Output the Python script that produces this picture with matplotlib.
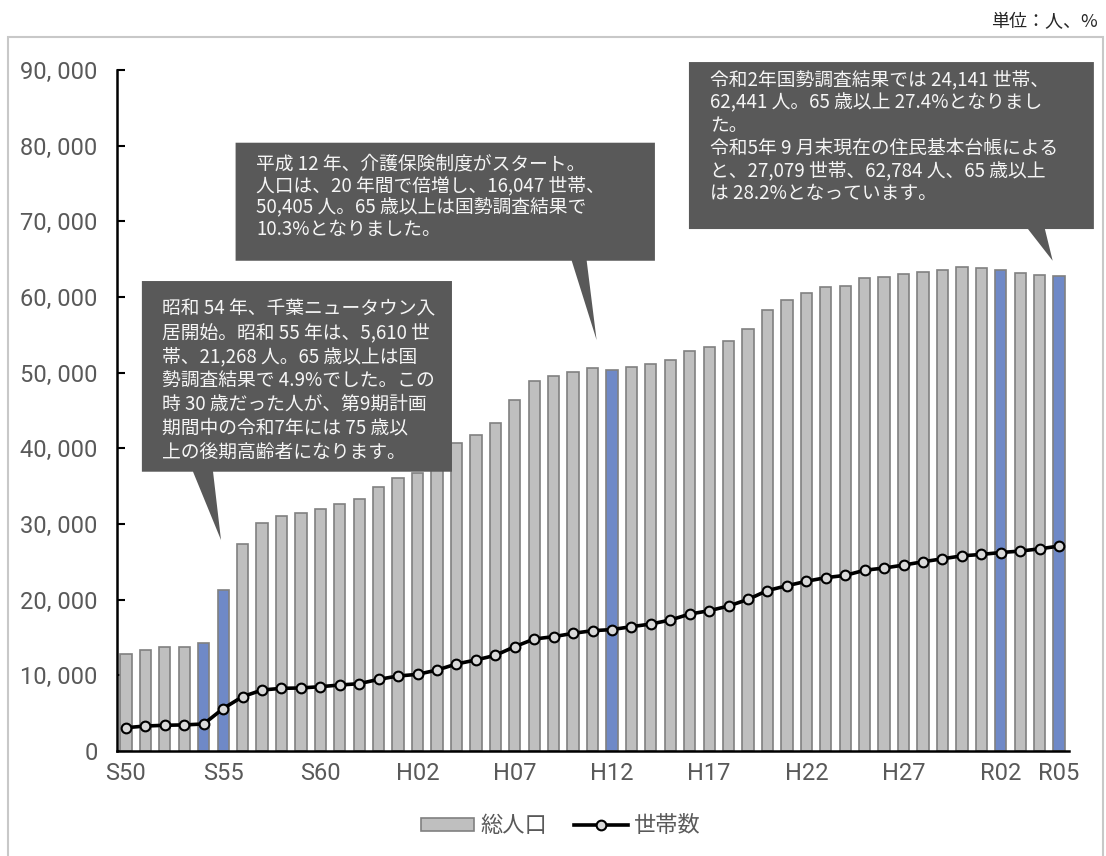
import matplotlib
matplotlib.use("Agg")
import matplotlib.pyplot as plt
from matplotlib.patches import Polygon, Rectangle
from matplotlib.lines import Line2D
from matplotlib.ticker import FuncFormatter

plt.rcParams['font.family'] = ['Noto Sans CJK JP', 'DejaVu Sans']

# 年次ラベル（S50〜R05、49年分）
years = (['S%d' % y for y in range(50, 65)]
         + ['H%02d' % y for y in range(2, 32)]
         + ['R%02d' % y for y in range(2, 6)])
tick_labels = ['S50', 'S55', 'S60', 'H02', 'H07', 'H12', 'H17', 'H22', 'H27', 'R02', 'R05']
highlight = ['S54', 'S55', 'H12', 'R02', 'R05']

# 総人口
population = [12780, 13350, 13700, 13700, 14230, 21268, 27310, 30170, 31100, 31500,
              31940, 32640, 33300, 34930, 36120, 36700, 38600, 40660, 41700, 43390,
              46380, 48940, 49560, 50130, 50660, 50405, 50790, 51140, 51670, 52900,
              53380, 54210, 55820, 58260, 59570, 60500, 61280, 61430, 62550, 62690,
              62990, 63330, 63620, 63910, 63770, 63570, 63180, 62890, 62784]
# 世帯数
households = [3080, 3300, 3400, 3450, 3570, 5610, 7180, 8060, 8280, 8330,
              8500, 8720, 8900, 9470, 9910, 10130, 10700, 11500, 12030, 12640,
              13790, 14800, 15110, 15550, 15900, 16047, 16430, 16780, 17310, 18100,
              18540, 19160, 20040, 21210, 21840, 22430, 22910, 23210, 23890, 24180,
              24570, 25010, 25400, 25790, 25980, 26230, 26420, 26720, 27079]

note1 = ['昭和 54 年、千葉ニュータウン入',
         '居開始。昭和 55 年は、5,610 世',
         '帯、21,268 人。65 歳以上は国',
         '勢調査結果で 4.9%でした。この',
         '時 30 歳だった人が、第9期計画',
         '期間中の令和7年には 75 歳以',
         '上の後期高齢者になります。']
note2 = ['平成 12 年、介護保険制度がスタート。',
         '人口は、20 年間で倍増し、16,047 世帯、',
         '50,405 人。65 歳以上は国勢調査結果で',
         '10.3%となりました。']
note3 = ['令和2年国勢調査結果では 24,141 世帯、',
         '62,441 人。65 歳以上 27.4%となりまし',
         'た。',
         '令和5年 9 月末現在の住民基本台帳による',
         'と、27,079 世帯、62,784 人、65 歳以上',
         'は 28.2%となっています。']

W, H = 1106, 856
fig = plt.figure(figsize=(W / 100, H / 100), dpi=100)

# outer frame
fig.patches.append(Rectangle((8 / W, -0.05), (1103 - 8) / W, 1.05 - 37 / H,
                             transform=fig.transFigure, fill=False,
                             edgecolor='#C8C8C8', linewidth=1.5))
fig.text(1098 / W, 1 - 22 / H, '単位：人、%', ha='right', va='center',
         fontsize=13, color='#262626')

ax = fig.add_axes([117 / W, 1 - 751 / H, (1069 - 117) / W, (751 - 70) / H])

x = list(range(len(years)))
colors = ['#6F89C7' if y in highlight else '#BFBFBF' for y in years]
ax.bar(x, population, width=0.58, color=colors, edgecolor='#808080',
       linewidth=1.2, zorder=2)
ax.plot(x, households, color='black', linewidth=2.6, marker='o', markersize=7,
        markerfacecolor='#D9D9D9', markeredgecolor='black', markeredgewidth=1.5,
        zorder=3)

ax.set_xlim(-0.46, 48.51)
ax.set_ylim(0, 90000)
ax.set_yticks(range(0, 90001, 10000))
ax.yaxis.set_major_formatter(FuncFormatter(lambda v, p: '{:,}'.format(int(v)).replace(',', ', ')))
ax.set_xticks([years.index(t) for t in tick_labels])
ax.set_xticklabels(tick_labels)

for lab in ax.get_yticklabels() + ax.get_xticklabels():
    lab.set_family(['Roboto', 'DejaVu Sans'])
    lab.set_fontsize(17)
    lab.set_color('#595959')
ax.tick_params(axis='y', direction='in', length=6, width=1.5, pad=14)
ax.tick_params(axis='x', length=0, pad=8)
for s in ['top', 'right']:
    ax.spines[s].set_visible(False)
for s in ['left', 'bottom']:
    ax.spines[s].set_linewidth(1.8)
    ax.spines[s].set_color('black')


def callout(ax, box, tail, lines, tx, ty, dy, size):
    x0, x1, y0, y1 = box
    b0, b1, tipx, tipy = tail
    poly = [(x0, y1), (x1, y1), (x1, y0), (b1, y0), (tipx, tipy), (b0, y0), (x0, y0)]
    ax.add_patch(Polygon(poly, closed=True, facecolor='#595959', edgecolor='none',
                         zorder=5, clip_on=False))
    for i, line in enumerate(lines):
        ax.text(tx, ty - i * dy, line, ha='left', va='center', fontsize=size,
                color='#F5F5F5', zorder=6, clip_on=False)


callout(ax, (0.82, 16.77, 36910, 62110), (3.45, 4.48, 4.89, 27880),
        note1, 1.85, 58500, 3172, 13.5)
callout(ax, (5.64, 27.21, 64790, 80390), (22.93, 23.70, 24.21, 54310),
        note2, 6.69, 77600, 2907, 13.5)
callout(ax, (28.96, 49.79, 68980, 91050), (46.40, 47.27, 47.67, 64790),
        note3, 30.04, 88700, 3000, 13.5)

handles = [Rectangle((0, 0), 1, 1, facecolor='#BFBFBF', edgecolor='#808080', linewidth=1.2),
           Line2D([0], [0], color='black', linewidth=2.6, marker='o', markersize=7,
                  markerfacecolor='#D9D9D9', markeredgecolor='black', markeredgewidth=1.5)]
leg = fig.legend(handles, ['総人口', '世帯数'], loc='center', ncol=2, frameon=False,
                 bbox_to_anchor=(561 / W, 1 - 826 / H), fontsize=16,
                 handlelength=2.4, handleheight=0.55, handletextpad=0.3,
                 columnspacing=1.2)
for t in leg.get_texts():
    t.set_color('#595959')

fig.savefig('out.png', dpi=100)
